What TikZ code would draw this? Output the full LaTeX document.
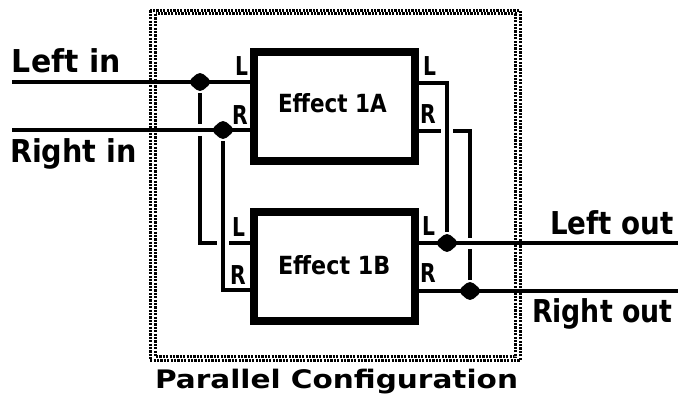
\documentclass[tikz,border=0pt]{standalone}
\usepackage{fontspec}
\setmainfont{DejaVu Sans}
\newcommand\lab[3]{\scalebox{#1}[1]{\fontsize{#2}{#2}\selectfont\bfseries #3}}
\usetikzlibrary{shapes.geometric}
\tikzset{
  wire/.style={line width=3.5pt},
  fx/.style={draw, line width=8pt, minimum width=161pt, minimum height=109pt, inner sep=0pt},
  jdot/.style={diamond, fill, inner sep=0pt, minimum width=25pt, minimum height=22pt, rounded corners=5pt},
  txt/.style={anchor=base west, inner sep=0pt, outer sep=0pt},
  frameline/.style={line width=3pt, dash pattern=on 2.2pt off 1.2pt},
}
\begin{document}
\begin{tikzpicture}[x=1pt, y=-1pt]
\useasboundingbox (0,0) rectangle (678,403);

% stippled frame of the configuration
\draw[frameline] (150,10.5) rectangle (520,360.5);
\draw[frameline] (155.5,14) rectangle (515,357);

% effect units
\node[fx] (effA) at (334.5,106.5) {};
\node[fx] (effB) at (334.5,267) {};
\node[txt] (tA) at (278,113) {\lab{0.86}{25}{Effect 1A}};
\node[txt] (tB) at (278,275) {\lab{0.89}{25}{Effect 1B}};

% end points and junctions
\coordinate (inL) at (12,82);
\coordinate (inR) at (12,130);
\coordinate (outL) at (678,243);
\coordinate (outR) at (678,291);
\node[jdot] (jL) at (200,82) {};
\node[jdot] (jR) at (223,130) {};
\node[jdot] (jOL) at (447,243) {};
\node[jdot] (jOR) at (470,291) {};

% inputs
\draw[wire] (inL) -- (effA.west |- inL);
\draw[wire] (inR) -- (effA.west |- inR);
\draw[wire] (jL) -- (200,124);
\draw[wire] (200,136) -- (200,243) -- (217,243);
\draw[wire] (229,243) -- (effB.west |- 0,243);
\draw[wire] (jR) -- (223,290) -- (effB.west |- 0,290);

% outputs
\draw[wire] (effA.east |- 0,83) -- (447,83) -- (jOL);
\draw[wire] (effA.east |- 0,131) -- (441,131);
\draw[wire] (453,131) -- (470,131) -- (470,238);
\draw[wire] (470,249) -- (jOR);
\draw[wire] (effB.east |- outL) -- (outL);
\draw[wire] (effB.east |- outR) -- (outR);

% port letters
\node[txt] (aiL) at (235,76) {\lab{0.78}{26}{L}};
\node[txt] (aiR) at (232,125) {\lab{0.78}{26}{R}};
\node[txt] (biL) at (232,237) {\lab{0.78}{26}{L}};
\node[txt] (biR) at (230,285) {\lab{0.78}{26}{R}};
\node[txt] (aoL) at (423,76) {\lab{0.78}{26}{L}};
\node[txt] (aoR) at (420,124) {\lab{0.78}{26}{R}};
\node[txt] (boL) at (422,236) {\lab{0.78}{26}{L}};
\node[txt] (boR) at (420,283) {\lab{0.78}{26}{R}};

% signal names
\node[txt] (nLin) at (12,73) {\lab{0.95}{31.5}{Left in}};
\node[txt] (nRin) at (10,163) {\lab{0.91}{31.5}{Right in}};
\node[txt] (nLout) at (550,235) {\lab{0.88}{31.5}{Left out}};
\node[txt] (nRout) at (532,323) {\lab{0.85}{31.5}{Right out}};
\node[txt] (cap) at (155,389) {\lab{1.158}{25.5}{Parallel Configuration}};
\end{tikzpicture}
\end{document}
